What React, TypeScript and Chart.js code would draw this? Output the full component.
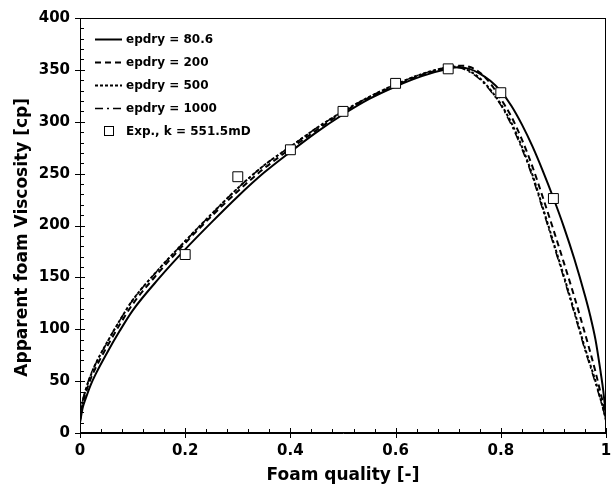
import { useEffect, useRef } from "react";
import { Chart, registerables } from "chart.js";

Chart.register(...registerables);

const FONT = "'DejaVu Sans', sans-serif";

// Foam quality grid shared by the model curves
const quality = [0, 0.005, 0.01, 0.02, 0.03, 0.05, 0.075, 0.1, 0.15, 0.2, 0.25, 0.3, 0.35, 0.4, 0.45, 0.5, 0.55, 0.6, 0.65, 0.7, 0.72, 0.74, 0.76, 0.78, 0.8, 0.82, 0.84, 0.86, 0.88, 0.9, 0.92, 0.94, 0.96, 0.97, 0.98, 0.99, 0.995, 1.0];

const epdry80 = [10, 24, 32, 46, 57, 76, 98, 118, 149, 177, 203, 228, 251, 271, 290, 307, 322, 334, 344, 351, 352.5, 351, 346.5, 339.5, 329.5, 315.5, 297.5, 276.5, 252.5, 226.5, 198.5, 167.5, 132.5, 113, 90, 58, 40, 15];
const epdry200 = [12, 28, 37, 52, 63, 82, 104, 124, 155, 183, 209, 233, 255, 274, 292, 309, 323, 335, 345, 352.5, 354, 353, 347.5, 337, 322, 305, 283, 257, 227, 196, 164, 131, 96, 78, 59, 38, 27, 13];
const epdry500 = [13, 30, 40, 55, 67, 86, 108, 128, 158, 185, 211, 236, 258, 276, 294, 310, 324, 336, 346, 352.5, 353, 349, 342, 331, 317, 299, 276, 249, 217, 184, 151, 117, 82, 66, 50, 32, 23, 12];
const epdry1000 = [13, 31, 41, 56, 67, 86, 108, 128, 158, 185, 211, 236, 258, 276, 294, 310, 324, 336, 346, 352, 352, 348, 341, 330, 316, 297, 274, 247, 215, 182, 149, 115, 80, 64, 48, 31, 22, 12];

// Experimental data
const expQuality = [0.2, 0.3, 0.4, 0.5, 0.6, 0.7, 0.8, 0.9];
const expViscosity = [172, 247, 273, 310, 337, 351, 328, 226];

const xTicks = [0, 0.2, 0.4, 0.6, 0.8, 1];
const yTicks = [0, 50, 100, 150, 200, 250, 300, 350, 400];
const xMinorStep = 0.04;
const yMinorStep = 10;

const seriesLabels = ["epdry = 80.6", "epdry = 200", "epdry = 500", "epdry = 1000"];
const expLabel = "Exp., k = 551.5mD";

const toPoints = (xs: number[], ys: number[]) => xs.map((x, i) => ({ x, y: ys[i] }));

const framePlugin = {
  id: "frameTicks",
  afterDraw(chart: any) {
    const { ctx, chartArea } = chart;
    const { left, right, top, bottom } = chartArea;
    const xs = chart.scales.x;
    const ys = chart.scales.y;
    ctx.save();
    ctx.strokeStyle = "#000";
    ctx.lineWidth = 1;
    ctx.strokeRect(left + 0.5, top + 0.5, right - left - 1, bottom - top - 1);
    ctx.beginPath();
    const nx = Math.round((xs.max - xs.min) / xMinorStep);
    for (let i = 0; i <= nx; i++) {
      const v = xs.min + i * xMinorStep;
      const px = Math.round(xs.getPixelForValue(v)) + 0.5;
      const major = xTicks.some((t) => Math.abs(t - v) < 1e-6);
      ctx.moveTo(px, bottom - (major ? 5 : 4));
      ctx.lineTo(px, bottom + (major ? 5 : 0));
    }
    const ny = Math.round((ys.max - ys.min) / yMinorStep);
    for (let i = 0; i <= ny; i++) {
      const v = ys.min + i * yMinorStep;
      const py = Math.round(ys.getPixelForValue(v)) + 0.5;
      const major = yTicks.some((t) => Math.abs(t - v) < 1e-6);
      ctx.moveTo(left - (major ? 5 : 0), py);
      ctx.lineTo(left + (major ? 5 : 4), py);
    }
    ctx.stroke();
    ctx.restore();
  },
};

const legendPlugin = {
  id: "insideLegend",
  afterDraw(chart: any) {
    const { ctx, chartArea } = chart;
    const x0 = chartArea.left + 15;
    const x1 = chartArea.left + 42;
    const tx = chartArea.left + 46;
    const y0 = chartArea.top + 21;
    const gap = 23;
    ctx.save();
    ctx.font = `bold 12px ${FONT}`;
    ctx.fillStyle = "#000";
    ctx.textBaseline = "middle";
    ctx.textAlign = "left";
    chart.data.datasets.forEach((ds: any, i: number) => {
      const y = y0 + i * gap;
      if (ds.showLine === false) {
        const cx = chartArea.left + 29;
        ctx.setLineDash([]);
        ctx.lineWidth = 1;
        ctx.strokeStyle = "#000";
        ctx.fillStyle = "#fff";
        ctx.fillRect(cx - 4.5, y - 4.5, 9, 9);
        ctx.strokeRect(cx - 4.5, y - 4.5, 9, 9);
        ctx.fillStyle = "#000";
      } else {
        ctx.setLineDash(ds.borderDash || []);
        ctx.lineWidth = ds.borderWidth;
        ctx.strokeStyle = "#000";
        ctx.beginPath();
        ctx.moveTo(x0, y + 0.5);
        ctx.lineTo(x1, y + 0.5);
        ctx.stroke();
      }
      ctx.setLineDash([]);
      ctx.fillText(ds.label, tx, y + 1);
    });
    ctx.restore();
  },
};

export default function App() {
  const ref = useRef<HTMLCanvasElement | null>(null);
  useEffect(() => {
    if (!ref.current) return;
    const lineBase = {
      pointRadius: 0,
      borderColor: "#000",
      backgroundColor: "#000",
      fill: false,
      cubicInterpolationMode: "monotone" as const,
    };
    const chart = new Chart(ref.current, {
      type: "line",
      data: {
        datasets: [
          { ...lineBase, label: seriesLabels[0], data: toPoints(quality, epdry80), borderWidth: 2, borderDash: [], order: 4 },
          { ...lineBase, label: seriesLabels[1], data: toPoints(quality, epdry200), borderWidth: 2, borderDash: [6, 4], order: 3 },
          { ...lineBase, label: seriesLabels[2], data: toPoints(quality, epdry500), borderWidth: 2, borderDash: [3, 2], order: 2 },
          { ...lineBase, label: seriesLabels[3], data: toPoints(quality, epdry1000), borderWidth: 1.5, borderDash: [8, 4, 2, 4], order: 1 },
          {
            label: expLabel,
            data: toPoints(expQuality, expViscosity),
            showLine: false,
            pointStyle: "rect",
            pointRadius: 7,
            pointBorderWidth: 1,
            pointBorderColor: "#000",
            pointBackgroundColor: "#fff",
            borderColor: "#000",
            backgroundColor: "#fff",
            order: 0,
          } as any,
        ],
      },
      options: {
        animation: false,
        responsive: false,
        maintainAspectRatio: false,
        layout: { padding: { top: 18, right: 2, left: 0, bottom: 0 } },
        plugins: { legend: { display: false }, tooltip: { enabled: false } },
        scales: {
          x: {
            type: "linear",
            min: 0,
            max: 1,
            afterBuildTicks: (s: any) => {
              s.ticks = xTicks.map((v) => ({ value: v }));
            },
            afterFit: (s: any) => {
              s.height = 56;
              s.paddingLeft = 0;
              s.paddingRight = 0;
            },
            ticks: {
              autoSkip: false,
              maxRotation: 0,
              padding: 9,
              color: "#000",
              font: { family: FONT, size: 15, weight: "bold" },
              callback: (v: any) => String(v),
            },
            grid: { display: false, drawTicks: false },
            border: { display: true, color: "#000" },
            title: {
              display: true,
              text: "Foam quality [-]",
              color: "#000",
              font: { family: FONT, size: 17, weight: "bold" },
              padding: { top: 0, bottom: 3 },
            },
          },
          y: {
            type: "linear",
            min: 0,
            max: 400,
            afterBuildTicks: (s: any) => {
              s.ticks = yTicks.map((v) => ({ value: v }));
            },
            afterFit: (s: any) => {
              s.width = 80;
              s.paddingTop = 0;
              s.paddingBottom = 0;
            },
            ticks: {
              autoSkip: false,
              padding: 10,
              color: "#000",
              font: { family: FONT, size: 15, weight: "bold" },
              callback: (v: any) => String(v),
            },
            grid: { display: false, drawTicks: false },
            border: { display: true, color: "#000" },
            title: {
              display: true,
              text: "Apparent foam Viscosity [cp]    ",
              color: "#000",
              font: { family: FONT, size: 17, weight: "bold" },
              padding: { top: 12, bottom: 0 },
            },
          },
        },
      },
      plugins: [framePlugin, legendPlugin],
    });
    return () => chart.destroy();
  }, []);
  return (
    <div style={{ position: "absolute", left: 0, top: 0, width: 614, height: 489, background: "#fff" }}>
      <canvas ref={ref} width={614} height={489} style={{ width: 614, height: 489, display: "block" }} />
    </div>
  );
}
